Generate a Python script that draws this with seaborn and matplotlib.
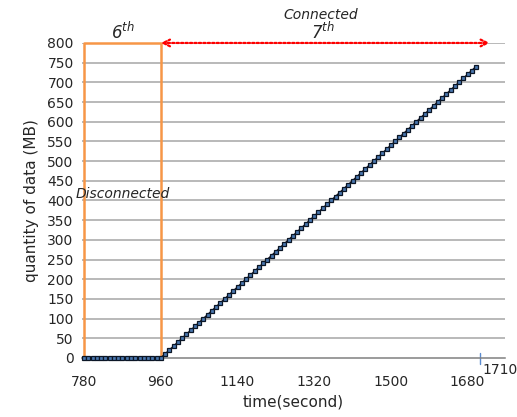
import numpy as np
import pandas as pd
import matplotlib
matplotlib.use("Agg")
import matplotlib.pyplot as plt
import seaborn as sns

# time (s) and transferred data (MB) at 10 s steps
times = [780, 790, 800, 810, 820, 830, 840, 850, 860, 870,
         880, 890, 900, 910, 920, 930, 940, 950, 960, 970,
         980, 990, 1000, 1010, 1020, 1030, 1040, 1050, 1060, 1070,
         1080, 1090, 1100, 1110, 1120, 1130, 1140, 1150, 1160, 1170,
         1180, 1190, 1200, 1210, 1220, 1230, 1240, 1250, 1260, 1270,
         1280, 1290, 1300, 1310, 1320, 1330, 1340, 1350, 1360, 1370,
         1380, 1390, 1400, 1410, 1420, 1430, 1440, 1450, 1460, 1470,
         1480, 1490, 1500, 1510, 1520, 1530, 1540, 1550, 1560, 1570,
         1580, 1590, 1600, 1610, 1620, 1630, 1640, 1650, 1660, 1670,
         1680, 1690, 1700]
data_mb = [0, 0, 0, 0, 0, 0, 0, 0, 0, 0,
           0, 0, 0, 0, 0, 0, 0, 0, 0, 10,
           20, 30, 40, 50, 60, 70, 80, 90, 100, 110,
           120, 130, 140, 150, 160, 170, 180, 190, 200, 210,
           220, 230, 240, 250, 260, 270, 280, 290, 300, 310,
           320, 330, 340, 350, 360, 370, 380, 390, 400, 410,
           420, 430, 440, 450, 460, 470, 480, 490, 500, 510,
           520, 530, 540, 550, 560, 570, 580, 590, 600, 610,
           620, 630, 640, 650, 660, 670, 680, 690, 700, 710,
           720, 730, 740]

xticks = [780, 960, 1140, 1320, 1500, 1680]
yticks = list(range(0, 801, 50))
disc_start, disc_end = 780, 960
arrow_end = 1732
extra_tick = 1710

df = pd.DataFrame({"time": times, "mb": data_mb})

sns.set_style("white")
plt.rcParams['font.family'] = ['DejaVu Sans']
# the only mathtext in the figure is the italic "6th"/"7th"
plt.rcParams['mathtext.fontset'] = 'custom'
plt.rcParams['mathtext.it'] = 'DejaVu Sans:italic'
plt.rcParams['mathtext.rm'] = 'DejaVu Sans:italic'
plt.rcParams['mathtext.default'] = 'it'

fig = plt.figure(figsize=(5.17, 4.17), dpi=100)
ax = fig.add_axes([0.1586, 0.1415, 0.8184, 0.7555])

for yv in yticks[1:]:
    ax.axhline(yv, color="#a6a6a6", lw=1.1, zorder=0)

# disconnected box
ax.plot([disc_start, disc_start, disc_end, disc_end, disc_start],
        [0, 800, 800, 0, 0], color="#f79646", lw=1.8, zorder=2, clip_on=False)

sns.lineplot(data=df, x="time", y="mb", ax=ax, color="#111122", lw=1.2,
             marker="s", markersize=3.3, markerfacecolor="#4a78b0",
             markeredgecolor="#0b1626", markeredgewidth=0.9, zorder=3,
             clip_on=False)

# connected arrow
ax.annotate("", xy=(arrow_end, 800), xytext=(disc_end, 800),
            arrowprops=dict(arrowstyle="<->", color="red", lw=1.6,
                            linestyle=(0, (1, 1)), mutation_scale=12,
                            shrinkA=0, shrinkB=0),
            annotation_clip=False, zorder=5)

ax.text(870, 828, r"$6^{th}$", ha="center", va="center", fontsize=12)
ax.text(1335, 872, "Connected", ha="center", va="center", fontsize=10, style="italic")
ax.text(1340, 828, r"$7^{th}$", ha="center", va="center", fontsize=12)
ax.text(870, 416, "Disconnected", ha="center", va="center", fontsize=10, style="italic")

ax.set_xlim(775, 1768)
ax.set_ylim(0, 800)
ax.set_xticks(xticks)
ax.set_yticks(yticks)
ax.tick_params(axis="x", direction="out", length=4, color="#808080", labelsize=10, pad=8)
ax.tick_params(axis="y", length=0, labelsize=10, pad=6)

# extra tick at 1710
ax.plot([extra_tick, extra_tick], [-15, 12], color="#5b8bd0", lw=1, clip_on=False)
ax.text(extra_tick + 5, -12, str(extra_tick), ha="left", va="top", fontsize=10)

for s in ["top", "right", "left"]:
    ax.spines[s].set_visible(False)
ax.spines["bottom"].set_color("#808080")
ax.spines["bottom"].set_linewidth(1.1)

ax.set_xlabel("time(second)", fontsize=11, labelpad=4)
ax.set_ylabel("quantity of data (MB)", fontsize=11, labelpad=6)

fig.savefig("out.png", dpi=100)
